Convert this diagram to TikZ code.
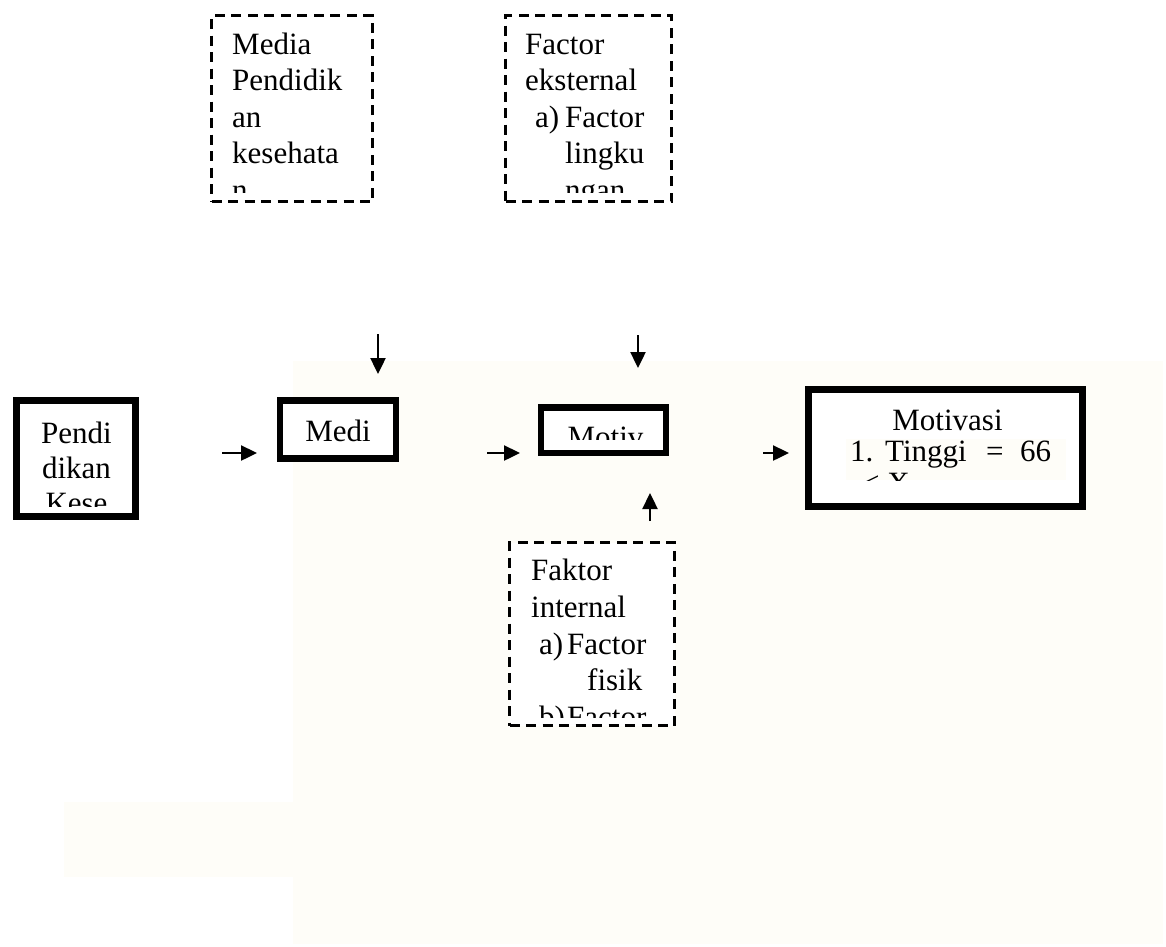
\documentclass[tikz,border=0pt]{standalone}
\usepackage{fontspec}
\setmainfont{Liberation Serif}
\usetikzlibrary{arrows.meta}
\definecolor{cream}{RGB}{254,253,248}
\begin{document}
\begin{tikzpicture}[x=1pt,y=-1pt,
  thickbox/.style={draw,line width=6.5pt,fill=white,inner sep=0pt},
  dashbox/.style={draw,line width=2.6pt,dash pattern=on 10pt off 6.5pt,fill=white,inner sep=0pt},
  txt/.style={inner sep=0pt,anchor=base west,font=\fontsize{31}{36}\selectfont},
  ctxt/.style={txt,anchor=base},
  arr/.style={line width=2.4pt,-{Triangle[length=16pt,width=15pt]}}]
\useasboundingbox (0,0) rectangle (1166,946);
% faint background areas
\fill[cream] (293,361) rectangle (1163,944);
\fill[cream] (64,802) rectangle (293,877);

% boxes
\node[thickbox,minimum width=119pt,minimum height=116pt] (pendi) at (76,458.5) {};
\node[thickbox,minimum width=116pt,minimum height=58pt] (medi) at (338,429.5) {};
\node[thickbox,minimum width=125pt,minimum height=45.5pt] (motiv) at (603.5,430.25) {};
\node[thickbox,minimum width=274pt,minimum height=117pt] (motivasi) at (945.5,448) {};
\node[dashbox,minimum width=161pt,minimum height=186pt] (media) at (292,108.5) {};
\node[dashbox,minimum width=166pt,minimum height=186pt] (ekst) at (588.5,108.5) {};
\node[dashbox,minimum width=165pt,minimum height=183pt] (intl) at (592,634) {};

% text highlight in Motivasi box
\fill[cream] (846,439) rectangle (1066,480);

% texts (clipped like overflowing text boxes)
\begin{scope}
\clip (214,18) rectangle (370,192);
\node[txt] (media1) at (232,54) {Media};
\node[txt] (media2) at (232,90.5) {Pendidik};
\node[txt] (media3) at (232,127) {an};
\node[txt] (media4) at (232,163.5) {kesehata};
\node[txt] (media5) at (232,200) {n};
\end{scope}

\begin{scope}
\clip (508,18) rectangle (669,192);
\node[txt] (ekst1) at (525,54) {Factor};
\node[txt] (ekst2) at (525,90.5) {eksternal};
\node[txt] (ekst3a) at (535,127) {a)};
\node[txt] (ekst3) at (565,127) {Factor};
\node[txt] (ekst4) at (565,163.5) {lingku};
\node[txt] (ekst5) at (565,200) {ngan};
\end{scope}

\begin{scope}
\clip (20,404) rectangle (132,506);
\node[ctxt] (pendi1) at (76.5,443) {Pendi};
\node[ctxt] (pendi2) at (76.5,478) {dikan};
\node[ctxt] (pendi3) at (76.5,513.5) {Kese};
\end{scope}

\node[ctxt] (medi1) at (338,441) {Medi};

\begin{scope}
\clip (545,411) rectangle (663,439);
\node[ctxt] (motiv1) at (605.5,447.5) {Motiv};
\end{scope}

\begin{scope}
\clip (812,393) rectangle (1079,480);
\node[ctxt] (mot1) at (947.5,430.5) {Motivasi};
\node[txt] (mot2a) at (850,461) {1.};
\node[txt] (mot2b) at (885,461) {Tinggi};
\node[txt] (mot2c) at (986,461) {=};
\node[txt] (mot2d) at (1020,461) {66};
\node[txt] (mot3) at (862,493) {< X};
\end{scope}

\begin{scope}
\clip (512,546) rectangle (672,717);
\node[txt] (intl1) at (531,580) {Faktor};
\node[txt] (intl2) at (531,617) {internal};
\node[txt] (intl3a) at (539,654) {a)};
\node[txt] (intl3) at (567,654) {Factor};
\node[txt] (intl4) at (587,690.5) {fisik};
\node[txt] (intl5a) at (539,727.5) {b)};
\node[txt] (intl5) at (567,727.5) {Factor};
\end{scope}

% arrows
\coordinate (a1s) at (222,453); \coordinate (a1e) at (257,453);
\coordinate (a2s) at (487,453); \coordinate (a2e) at (520,453);
\coordinate (a3s) at (763,453); \coordinate (a3e) at (789,453);
\coordinate (d1s) at (378,334); \coordinate (d1e) at (378,374);
\coordinate (d2s) at (638,335); \coordinate (d2e) at (638,368);
\coordinate (u1s) at (650,521); \coordinate (u1e) at (650,493);
\draw[arr] (a1s) -- (a1e);
\draw[arr] (a2s) -- (a2e);
\draw[arr] (a3s) -- (a3e);
\draw[arr] (d1s) -- (d1e);
\draw[arr] (d2s) -- (d2e);
\draw[arr] (u1s) -- (u1e);
\end{tikzpicture}
\end{document}
